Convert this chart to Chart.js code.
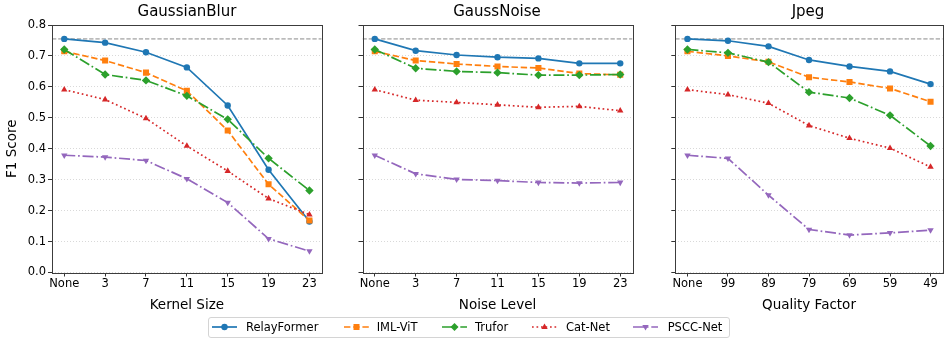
<!DOCTYPE html>
<html>
<head>
<meta charset="utf-8">
<title>F1 robustness</title>
<script src="https://cdn.jsdelivr.net/npm/chart.js@4.4.1/dist/chart.umd.min.js"></script>
<style>
  html, body { margin: 0; padding: 0; background: #fff; }
  body { width: 947px; height: 341px; position: relative; overflow: hidden; font-family: "DejaVu Sans", sans-serif; color: #000; }
  canvas { position: absolute; top: 0; }
  .ttl { position: absolute; top: 1px; width: 270px; text-align: center; font-size: 15px; line-height: 20px; }
  #legend { position: absolute; left: 208px; top: 317px; width: 522px; height: 21px; border: 1px solid #d4d4d4; border-radius: 3px; box-sizing: border-box; }
  .lg-s { position: absolute; top: 321px; width: 25px; height: 12px; }
  .lg-t { position: absolute; top: 320px; font-size: 11.5px; line-height: 14px; white-space: nowrap; }
</style>
</head>
<body>
<canvas id="c1" width="326" height="320" style="left:0px"></canvas>
<canvas id="c2" width="307" height="320" style="left:330px"></canvas>
<canvas id="c3" width="276" height="320" style="left:671px"></canvas>
<div class="ttl" style="left:52px">GaussianBlur</div>
<div class="ttl" style="left:362px">GaussNoise</div>
<div class="ttl" style="left:673px">Jpeg</div>
<div id="legend"></div>
<div id="legend-items"></div>

<script>
// --- data ---
const kernelTicks = ['None', '3', '7', '11', '15', '19', '23'];
const noiseTicks = ['None', '3', '7', '11', '15', '19', '23'];
const qualityTicks = ['None', '99', '89', '79', '69', '59', '49'];
const yTickValues = [0, 0.1, 0.2, 0.3, 0.4, 0.5, 0.6, 0.7, 0.8];
const methods = ['RelayFormer', 'IML-ViT', 'Trufor', 'Cat-Net', 'PSCC-Net'];
const refScore = 0.755;

// GaussianBlur
const blurRelay  = [0.755, 0.743, 0.712, 0.663, 0.540, 0.332, 0.165];
const blurIml    = [0.715, 0.685, 0.646, 0.587, 0.459, 0.285, 0.168];
const blurTrufor = [0.721, 0.640, 0.621, 0.571, 0.495, 0.369, 0.265];
const blurCat    = [0.591, 0.559, 0.498, 0.409, 0.328, 0.239, 0.187];
const blurPscc   = [0.379, 0.373, 0.362, 0.303, 0.226, 0.109, 0.069];

// GaussNoise
const noiseRelay  = [0.755, 0.717, 0.703, 0.696, 0.692, 0.676, 0.676];
const noiseIml    = [0.715, 0.685, 0.674, 0.666, 0.661, 0.643, 0.639];
const noiseTrufor = [0.721, 0.660, 0.650, 0.646, 0.638, 0.638, 0.640];
const noiseCat    = [0.591, 0.557, 0.550, 0.542, 0.534, 0.537, 0.523];
const noisePscc   = [0.379, 0.319, 0.301, 0.297, 0.291, 0.289, 0.291];

// Jpeg
const jpegRelay  = [0.755, 0.749, 0.731, 0.687, 0.666, 0.650, 0.609];
const jpegIml    = [0.715, 0.700, 0.681, 0.631, 0.616, 0.595, 0.552];
const jpegTrufor = [0.721, 0.710, 0.680, 0.583, 0.564, 0.508, 0.409];
const jpegCat    = [0.591, 0.575, 0.547, 0.475, 0.434, 0.402, 0.341];
const jpegPscc   = [0.379, 0.369, 0.250, 0.139, 0.121, 0.128, 0.137];

// --- styling ---
const FONT = '"DejaVu Sans", sans-serif';
const colors = ['#1f77b4', '#ff7f0e', '#2ca02c', '#d62728', '#9467bd'];
const dashes = [[], [6.4, 2.8], [11, 2.8, 1.7, 2.8], [1.7, 2.8], [11, 2.8, 1.7, 2.8]];
const shapes = ['circle', 'rect', 'rectRot', 'triangle', 'triangle'];
const radii = [3.2, 4.3, 4.2, 3.7, 3.7];
const rotations = [0, 0, 0, 0, 180];

// box round each plot, like matplotlib spines
const frame = {
  id: 'frame',
  afterDraw(chart) {
    const { ctx, chartArea: a } = chart;
    ctx.save();
    ctx.strokeStyle = '#3c3c3c';
    ctx.lineWidth = 1;
    const l = Math.round(a.left) + 0.5, t = Math.round(a.top) + 0.5;
    const r = Math.round(a.right) + 0.5, b = Math.round(a.bottom) + 0.5;
    ctx.strokeRect(l, t, r - l, b - t);
    ctx.restore();
  }
};

function makePanel(id, ticks, series, xTitle, yWidth, padRight, showY) {
  const datasets = series.map((vals, i) => ({
    label: methods[i],
    data: vals.map((v, k) => ({ x: k, y: v })),
    borderColor: colors[i],
    backgroundColor: colors[i],
    borderWidth: 1.7,
    borderDash: dashes[i],
    pointStyle: shapes[i],
    pointRadius: radii[i],
    pointRotation: rotations[i],
    pointBorderWidth: 0,
    pointBackgroundColor: colors[i],
    tension: 0,
    order: 5 - i
  }));
  datasets.push({
    label: 'ref',
    data: [{ x: -0.3, y: refScore }, { x: 6.3, y: refScore }],
    borderColor: '#8a8a8a',
    borderWidth: 1,
    borderDash: [4.3, 1.9],
    pointRadius: 0,
    order: 10
  });

  return new Chart(document.getElementById(id), {
    type: 'line',
    data: { datasets },
    options: {
      responsive: false,
      animation: false,
      devicePixelRatio: 1,
      layout: { padding: { top: 25, right: padRight, left: 0, bottom: 0 } },
      plugins: { legend: { display: false }, tooltip: { enabled: false } },
      scales: {
        x: {
          type: 'linear', min: -0.3, max: 6.3,
          afterBuildTicks: s => { s.ticks = ticks.map((t, i) => ({ value: i })); },
          afterFit: s => { s.height = 47.5; },
          ticks: {
            autoSkip: false, maxRotation: 0, padding: 1, color: '#000',
            font: { family: FONT, size: 11.5 },
            callback: v => ticks[v] ?? ''
          },
          grid: { drawOnChartArea: false, drawTicks: true, tickLength: 4, tickColor: '#333', tickWidth: 1 },
          border: { display: false },
          title: { display: true, text: xTitle, color: '#000', font: { family: FONT, size: 13.5 }, padding: { top: 0, bottom: 6 } }
        },
        y: {
          min: 0, max: 0.8,
          afterBuildTicks: s => { s.ticks = yTickValues.map(v => ({ value: v })); },
          afterFit: s => { s.width = yWidth; },
          ticks: {
            display: showY, padding: 2, color: '#000',
            font: { family: FONT, size: 11.5 },
            callback: v => v.toFixed(1)
          },
          grid: { color: '#cfcfcf', lineWidth: 0.8, tickLength: 4, tickColor: '#333', tickWidth: 1, tickBorderDash: [] },
          border: { display: false, dash: [1, 2] },
          title: { display: showY, text: 'F1 Score', color: '#000', font: { family: FONT, size: 13.5 }, padding: { top: 4, bottom: 0 } }
        }
      }
    },
    plugins: [frame]
  });
}

makePanel('c1', kernelTicks, [blurRelay, blurIml, blurTrufor, blurCat, blurPscc], 'Kernel Size', 52, 4, true);
makePanel('c2', noiseTicks, [noiseRelay, noiseIml, noiseTrufor, noiseCat, noisePscc], 'Noise Level', 32.5, 4.5, false);
makePanel('c3', qualityTicks, [jpegRelay, jpegIml, jpegTrufor, jpegCat, jpegPscc], 'Quality Factor', 2, 4, false);

// legend (html text + small svg samples)
const sampleX = [211.7, 344, 441.7, 531.7, 633.3];
const textX = [246, 376.7, 475, 566, 667.7];
const markerSvg = [
  c => `<circle cx="12.5" cy="6" r="3.2" fill="${c}"/>`,
  c => `<rect x="9.5" y="3" width="6" height="6" fill="${c}"/>`,
  c => `<polygon points="12.5,2 16.5,6 12.5,10 8.5,6" fill="${c}"/>`,
  c => `<polygon points="12.5,2.4 15.7,8 9.3,8" fill="${c}"/>`,
  c => `<polygon points="12.5,9.6 15.7,4 9.3,4" fill="${c}"/>`
];
const box = document.getElementById('legend-items');
methods.forEach((m, i) => {
  const dash = dashes[i].length ? `stroke-dasharray="${dashes[i].join(' ')}"` : '';
  const svg = `<svg class="lg-s" style="left:${sampleX[i]}px" viewBox="0 0 25 12">
    <line x1="0" y1="6" x2="25" y2="6" stroke="${colors[i]}" stroke-width="1.7" ${dash}/>${markerSvg[i](colors[i])}</svg>`;
  box.insertAdjacentHTML('beforeend', svg + `<span class="lg-t" style="left:${textX[i]}px">${m}</span>`);
});
</script>
</body>
</html>
